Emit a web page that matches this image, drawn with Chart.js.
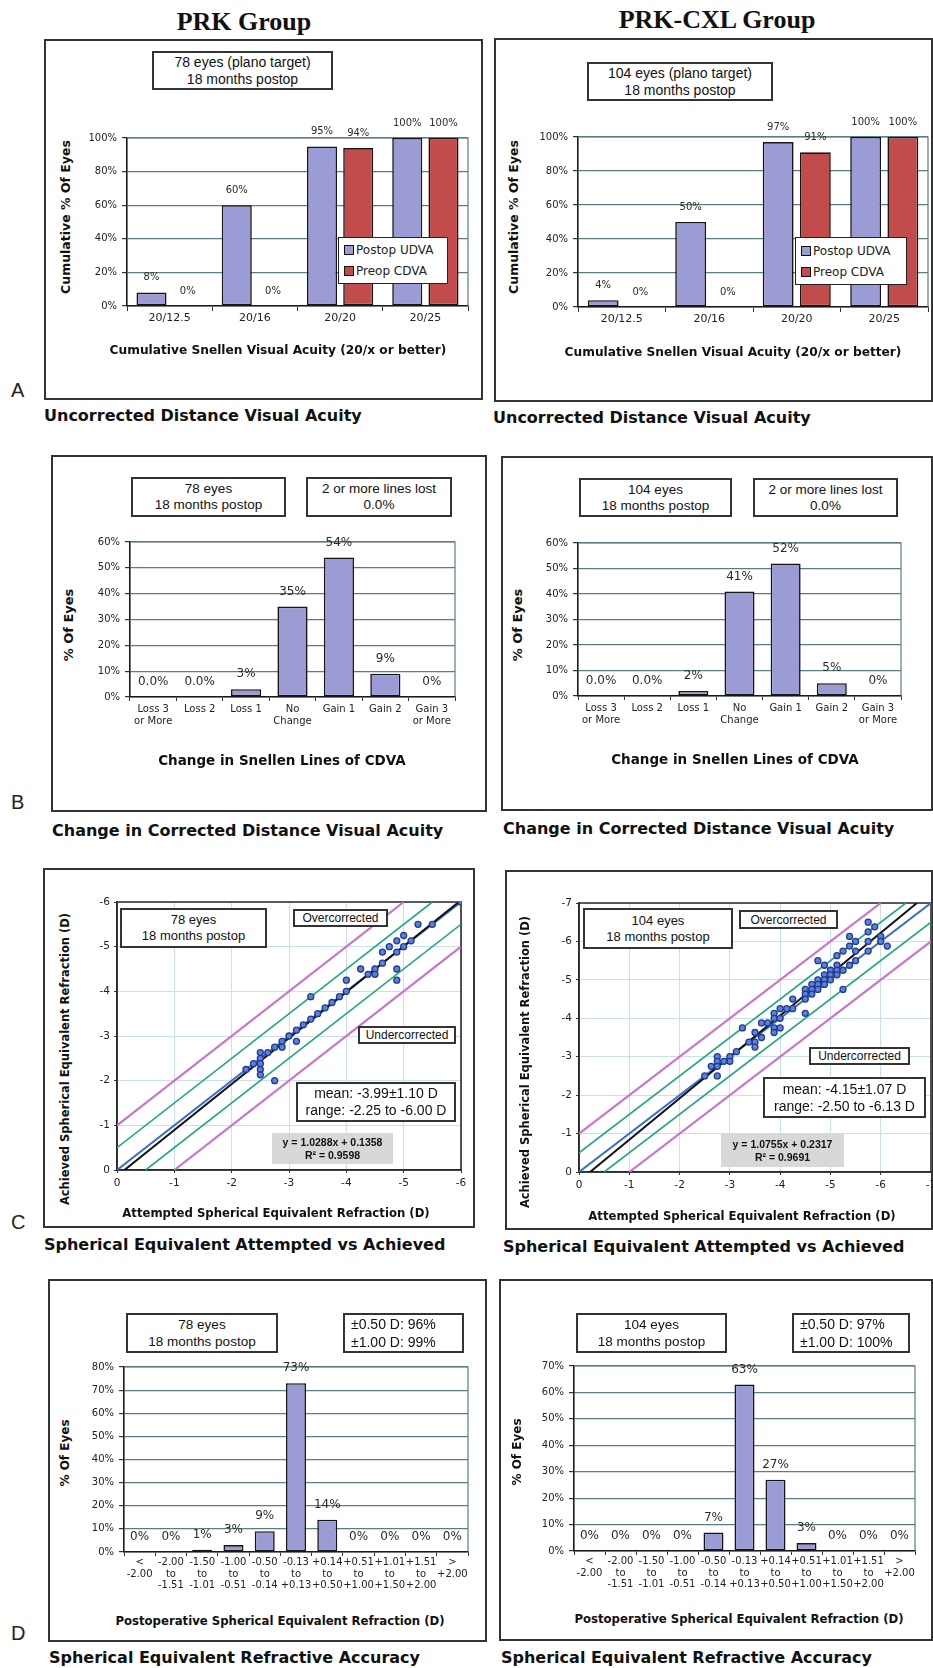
<!DOCTYPE html>
<html>
<head>
<meta charset="utf-8">
<script src="https://cdn.jsdelivr.net/npm/chart.js@4.4.0/dist/chart.umd.min.js"></script>
<style>
body { margin:0; width:933px; height:1668px; position:relative; background:#fff; overflow:hidden; font-family:"DejaVu Sans", sans-serif; color:#111; }
.panel { position:absolute; border:2px solid #333; box-sizing:border-box; }
.box { position:absolute; border:2px solid #333; box-sizing:border-box; background:#fff; font-family:"Liberation Sans", Arial, sans-serif; text-align:center; display:flex; flex-direction:column; justify-content:center; color:#111; }
.legend { position:absolute; border:1.5px solid #222; box-sizing:border-box; background:#fff; font-size:12px; color:#222; display:flex; flex-direction:column; justify-content:center; gap:7px; padding-left:5px; }
.legend span.sw { display:inline-block; width:8px; height:8px; border:1.5px solid #111; margin-right:2px; vertical-align:-1px; }
</style>
</head>
<body>
<script>
// ---- data ----
const acuityCats = ['20/12.5', '20/16', '20/20', '20/25'];
const prkUdva = [8, 60, 95, 100];
const prkCdva = [0, 0, 94, 100];
const cxlUdva = [4, 50, 97, 100];
const cxlCdva = [0, 0, 91, 100];

const lineCats = [['Loss 3', 'or More'], 'Loss 2', 'Loss 1', ['No', 'Change'], 'Gain 1', 'Gain 2', ['Gain 3', 'or More']];
const prkLines = [0, 0, 3, 35, 54, 9, 0];
const prkLinesText = ['0.0%', '0.0%', '3%', '35%', '54%', '9%', '0%'];
const cxlLines = [0, 0, 2, 41, 52, 5, 0];
const cxlLinesText = ['0.0%', '0.0%', '2%', '41%', '52%', '5%', '0%'];

const seCats = [['<', '-2.00'], ['-2.00', 'to', '-1.51'], ['-1.50', 'to', '-1.01'], ['-1.00', 'to', '-0.51'], ['-0.50', 'to', '-0.14'],
  ['-0.13', 'to', '+0.13'], ['+0.14', 'to', '+0.50'], ['+0.51', 'to', '+1.00'], ['+1.01', 'to', '+1.50'], ['+1.51', 'to', '+2.00'], ['>', '+2.00']];
const prkSe = [0, 0, 1, 3, 9, 73, 14, 0, 0, 0, 0];
const cxlSe = [0, 0, 0, 0, 7, 63, 27, 3, 0, 0, 0];

// attempted vs achieved (D)
const prkAttempted = [-6, -5.5, -5.25, -5.13, -5, -5, -4.88, -4.88, -4.88, -4.88, -4.75, -4.63, -4.63, -4.5, -4.5, -4.38, -4.25, -4, -4, -3.88,
  -3.75, -3.63, -3.5, -3.38, -3.38, -3.25, -3.13, -3.13, -3, -2.88, -2.88, -2.75, -2.75, -2.63, -2.5, -2.5, -2.5, -2.5, -2.5, -2.38, -2.25];
const prkAchieved = [-6, -5.5, -5.5, -5.13, -5.25, -5, -5.13, -4.88, -4.5, -4.25, -5, -4.88, -4.63, -4.5, -4.38, -4.38, -4.5, -4.25, -4, -3.88,
  -3.75, -3.63, -3.5, -3.88, -3.38, -3.25, -3.13, -2.88, -3, -2.88, -2.75, -2.75, -2, -2.63, -2.63, -2.5, -2.38, -2.25, -2.13, -2.38, -2.25];
const cxlAttempted = [-5.75, -5.88, -5.75, -5.38, -5.75, -5.5, -6, -6, -6.13, -5.38, -5.25, -5.5, -5.75, -5.13, -5.5, -5.38, -4.75, -4.88, -5.13, -5,
  -5.13, -5.25, -4.88, -5, -5.13, -4.75, -4.88, -5, -4.63, -4.75, -4.88, -4.5, -4.63, -4.75, -5.25, -4.5, -4.63, -4.5, -4.25, -4.13,
  -4.25, -4.5, -4, -3.88, -3.88, -4, -3.75, -3.88, -4, -3.88, -3.63, -3.63, -3.5, -3.5, -3.5, -3.38, -3.25, -3.13, -3, -3,
  -2.88, -2.75, -2.75, -2.75, -2.75, -2.63, -2.5];
const cxlAchieved = [-6.5, -6.38, -6.25, -6.13, -6, -6, -6.13, -6, -5.88, -5.88, -5.75, -5.75, -5.75, -5.63, -5.5, -5.38, -5.5, -5.38, -5.38, -5.25,
  -5.25, -5.25, -5.13, -5.13, -5.13, -5, -5, -5, -4.88, -4.88, -4.88, -4.75, -4.75, -4.75, -4.75, -4.63, -4.63, -4.5, -4.5, -4.25,
  -4.25, -4.13, -4.25, -4.13, -4, -4, -3.88, -3.75, -3.75, -3.63, -3.88, -3.5, -3.63, -3.38, -3.25, -3.38, -3.75, -3.13, -3, -2.88,
  -2.88, -3, -2.88, -2.75, -2.5, -2.75, -2.5];

// reference lines as [x, y] end points
const prkFit = [[-0.13, 0], [-6, -6.04]];
const prkIdent = [[0, 0], [-6, -6]];
const prkGreen = [[[0, -0.5], [-5.5, -6]], [[-0.5, 0], [-6, -5.5]]];
const prkMagenta = [[[0, -1], [-5, -6]], [[-1, 0], [-6, -5]]];
const cxlFit = [[-0.22, 0], [-6.72, -7]];
const cxlIdent = [[0, 0], [-7, -7]];
const cxlGreen = [[[0, -0.5], [-6.5, -7]], [[-0.5, 0], [-7, -6.5]]];
const cxlMagenta = [[[0, -1], [-6, -7]], [[-1, 0], [-7, -6]]];

// ---- styles ----
const PURPLE = '#9b9bd5';
const RED = '#c24b4b';
const GRID = '#5a7d84';
const LIGHT = '#cadff0';
const GREEN = '#1fa87a';
const MAGENTA = '#cc72cc';
const BLUE = '#3a6bd0';
const INK = '#222';

Chart.defaults.font.family = '"DejaVu Sans", sans-serif';
Chart.defaults.color = INK;

// ---- html helpers ----
function T(s, x, y, css, how) {
  const d = document.createElement('div');
  d.textContent = s;
  let tf = 'translate(-50%,-50%)';
  if (how === 'l') tf = 'translate(0,-50%)';
  if (how === 'v') tf = 'translate(-50%,-50%) rotate(-90deg)';
  d.style.cssText = 'position:absolute;white-space:nowrap;left:' + x + 'px;top:' + y + 'px;transform:' + tf + ';' + (css || '');
  document.body.appendChild(d);
}
function panel(x1, y1, x2, y2) {
  const d = document.createElement('div');
  d.className = 'panel';
  d.style.cssText = 'left:' + x1 + 'px;top:' + y1 + 'px;width:' + (x2 - x1) + 'px;height:' + (y2 - y1) + 'px';
  document.body.appendChild(d);
}
function box(x1, y1, x2, y2, lines, css) {
  const d = document.createElement('div');
  d.className = 'box';
  d.style.cssText = 'left:' + x1 + 'px;top:' + y1 + 'px;width:' + (x2 - x1) + 'px;height:' + (y2 - y1) + 'px;' + (css || '');
  lines.forEach(l => { const s = document.createElement('div'); s.textContent = l; d.appendChild(s); });
  document.body.appendChild(d);
}
function legend(x1, y1, x2, y2) {
  const d = document.createElement('div');
  d.className = 'legend';
  d.style.cssText = 'left:' + x1 + 'px;top:' + y1 + 'px;width:' + (x2 - x1) + 'px;height:' + (y2 - y1) + 'px';
  d.innerHTML = '<div><span class="sw" style="background:' + PURPLE + '"></span>Postop UDVA</div>' +
                '<div><span class="sw" style="background:' + RED + '"></span>Preop CDVA</div>';
  document.body.appendChild(d);
}

// ---- chart helpers ----
function mount(plot, yW, xH, pad) {
  const w = plot.r - plot.l + yW + pad.left + pad.right;
  const h = plot.b - plot.t + xH + pad.top + pad.bottom;
  const c = document.createElement('canvas');
  c.width = w; c.height = h;
  c.style.cssText = 'position:absolute;left:' + (plot.l - yW - pad.left) + 'px;top:' + (plot.t - pad.top) + 'px;width:' + w + 'px;height:' + h + 'px';
  document.body.appendChild(c);
  return c;
}
const noPad = s => { s.paddingLeft = 0; s.paddingRight = 0; s.paddingTop = 0; s.paddingBottom = 0; };
const fixW = w => s => { s.width = w; noPad(s); };
const fixH = h => s => { s.height = h; noPad(s); };

const frame = {
  id: 'frame',
  beforeDatasetsDraw(chart, args, opts) {
    const { left, top, right, bottom } = chart.chartArea;
    const ctx = chart.ctx;
    ctx.save();
    ctx.strokeStyle = opts.color;
    ctx.lineWidth = opts.width;
    ctx.beginPath();
    if (opts.all) { ctx.moveTo(left, bottom); ctx.lineTo(left, top); } else { ctx.moveTo(left, top); }
    ctx.lineTo(right, top);
    ctx.lineTo(right, bottom);
    if (opts.all) ctx.lineTo(left, bottom);
    ctx.stroke();
    ctx.restore();
  }
};
const valueText = {
  id: 'valueText',
  afterDatasetsDraw(chart, args, opts) {
    const ctx = chart.ctx;
    ctx.save();
    ctx.font = opts.size + 'px "DejaVu Sans"';
    ctx.fillStyle = '#2a2a2a';
    ctx.textAlign = 'center';
    ctx.textBaseline = 'middle';
    chart.data.datasets.forEach((ds, i) => {
      if (!ds.valueLabels) return;
      chart.getDatasetMeta(i).data.forEach((bar, j) => ctx.fillText(ds.valueLabels[j], bar.x, bar.y - opts.gap));
    });
    ctx.restore();
  }
};

function barChart(o) {
  const yW = 45, xH = 60;
  const c = mount(o.plot, yW, xH, o.pad);
  new Chart(c, {
    type: 'bar',
    data: {
      labels: o.labels,
      datasets: o.series.map(s => ({
        data: s.data, valueLabels: s.text, backgroundColor: s.color,
        borderColor: '#151515', borderWidth: 1.6, borderSkipped: false,
        categoryPercentage: o.cp, barPercentage: o.bp
      }))
    },
    options: {
      responsive: false, animation: false, events: [],
      layout: { padding: o.pad, autoPadding: false },
      plugins: {
        legend: { display: false }, tooltip: { enabled: false },
        frame: { color: GRID, width: 1.2 },
        valueText: { size: o.labelSize, gap: 15 }
      },
      scales: {
        x: {
          grid: { drawOnChartArea: false, tickLength: o.xTick, tickColor: '#333', offset: true },
          border: { color: '#1a1a1a', width: 1.6 },
          ticks: { font: { size: o.xFont, lineHeight: o.xLine }, padding: o.xPad, color: INK, maxRotation: 0, autoSkip: false },
          afterFit: fixH(xH)
        },
        y: {
          min: 0, max: o.yMax,
          grid: { color: GRID, lineWidth: 1.2, tickLength: 5, tickColor: '#333' },
          border: { color: '#1a1a1a', width: 1.6 },
          ticks: { stepSize: o.yStep, font: { size: 10 }, padding: 5, color: INK, callback: v => v + '%' },
          afterFit: fixW(yW)
        }
      }
    },
    plugins: [frame, valueText]
  });
}

function scatterChart(o) {
  const yW = 45, xH = 40;
  const c = mount(o.plot, yW, xH, o.pad);
  const line = (pts, color, w) => ({
    type: 'line', data: pts.map(p => ({ x: p[0], y: p[1] })),
    borderColor: color, borderWidth: w, pointRadius: 0, fill: false, tension: 0
  });
  const axis = (fix) => ({
    type: 'linear', min: -o.max, max: 0, reverse: true,
    grid: { color: LIGHT, lineWidth: 1, tickLength: 3, tickColor: '#333' },
    border: { color: '#2a2a2a', width: 1.6 },
    ticks: { stepSize: 1, font: { size: 10.5 }, padding: 4, color: INK, callback: v => String(v) },
    afterFit: fix
  });
  new Chart(c, {
    type: 'scatter',
    data: {
      datasets: [
        { data: o.xs.map((x, i) => ({ x: x, y: o.ys[i] })), pointRadius: 3, pointBackgroundColor: '#5f80d6', pointBorderColor: '#1f3c95', pointBorderWidth: 1.3 },
        line(o.fit, '#111', 2),
        line(o.ident, BLUE, 2),
        line(o.green[0], GREEN, 1.6), line(o.green[1], GREEN, 1.6),
        line(o.magenta[0], MAGENTA, 2.2), line(o.magenta[1], MAGENTA, 2.2)
      ]
    },
    options: {
      responsive: false, animation: false, events: [],
      layout: { padding: o.pad, autoPadding: false },
      plugins: { legend: { display: false }, tooltip: { enabled: false }, frame: { color: '#2a2a2a', width: 1.6, all: true } },
      scales: { x: axis(fixH(xH)), y: axis(fixW(yW)) }
    },
    plugins: [frame]
  });
}

// ---- page furniture ----
const serif = 'font-family:"Liberation Serif",serif;font-weight:bold;font-size:26px;color:#111;';
const section = 'font-weight:bold;font-size:16px;color:#111;';
const letter = 'font-family:"Liberation Sans",Arial,sans-serif;font-size:20px;color:#222;';
const ax = size => 'font-weight:bold;font-size:' + size + 'px;color:#111;';

T('PRK Group', 244, 22, serif);
T('PRK-CXL Group', 717, 20, serif);

panel(44, 39, 483, 400); panel(494, 38, 933, 402);
panel(51, 455, 487, 812); panel(501, 456, 933, 811);
panel(43, 868, 475, 1228); panel(505, 870, 933, 1230);
panel(48, 1279, 487, 1642); panel(499, 1279, 933, 1641);

T('A', 11, 390, letter, 'l'); T('B', 11, 802, letter, 'l'); T('C', 11, 1222, letter, 'l'); T('D', 11, 1633, letter, 'l');

T('Uncorrected Distance Visual Acuity', 44, 415, section, 'l');
T('Uncorrected Distance Visual Acuity', 493, 417, section, 'l');
T('Change in Corrected Distance Visual Acuity', 52, 830, section, 'l');
T('Change in Corrected Distance Visual Acuity', 503, 828, section, 'l');
T('Spherical Equivalent Attempted vs Achieved', 44, 1244, section, 'l');
T('Spherical Equivalent Attempted vs Achieved', 503, 1246, section, 'l');
T('Spherical Equivalent Refractive Accuracy', 49, 1657, section, 'l');
T('Spherical Equivalent Refractive Accuracy', 501, 1657, section, 'l');

// ---- A ----
barChart({
  plot: { l: 127, r: 468, t: 138, b: 306 }, pad: { left: 0, right: 8, top: 26, bottom: 0 },
  labels: acuityCats, cp: 0.85, bp: 0.83, yMax: 100, yStep: 20, labelSize: 10,
  xFont: 11, xLine: 1.2, xTick: 5, xPad: 1,
  series: [
    { data: prkUdva, text: prkUdva.map(v => v + '%'), color: PURPLE },
    { data: prkCdva, text: prkCdva.map(v => v + '%'), color: RED }
  ]
});
barChart({
  plot: { l: 578, r: 928, t: 137, b: 307 }, pad: { left: 0, right: 4, top: 26, bottom: 0 },
  labels: acuityCats, cp: 0.85, bp: 0.83, yMax: 100, yStep: 20, labelSize: 10,
  xFont: 11, xLine: 1.2, xTick: 5, xPad: 1,
  series: [
    { data: cxlUdva, text: cxlUdva.map(v => v + '%'), color: PURPLE },
    { data: cxlCdva, text: cxlCdva.map(v => v + '%'), color: RED }
  ]
});
box(152, 51, 333, 90, ['78 eyes (plano target)', '18 months postop'], 'font-size:14px;line-height:17px;');
box(587, 62, 773, 101, ['104 eyes (plano target)', '18 months postop'], 'font-size:14px;line-height:17px;');
legend(338, 237, 448, 284);
legend(795, 237, 907, 285);
T('Cumulative % Of Eyes', 65, 217, ax(12.5), 'v');
T('Cumulative % Of Eyes', 513, 217, ax(12.5), 'v');
T('Cumulative Snellen Visual Acuity (20/x or better)', 278, 350, ax(12.2));
T('Cumulative Snellen Visual Acuity (20/x or better)', 733, 352, ax(12.2));

// ---- B ----
barChart({
  plot: { l: 130, r: 455, t: 542, b: 697 }, pad: { left: 0, right: 8, top: 20, bottom: 0 },
  labels: lineCats, cp: 1, bp: 0.65, yMax: 60, yStep: 10, labelSize: 12,
  xFont: 10, xLine: 1.2, xTick: 4, xPad: 2,
  series: [{ data: prkLines, text: prkLinesText, color: PURPLE }]
});
barChart({
  plot: { l: 578, r: 901, t: 543, b: 696 }, pad: { left: 0, right: 8, top: 20, bottom: 0 },
  labels: lineCats, cp: 1, bp: 0.65, yMax: 60, yStep: 10, labelSize: 12,
  xFont: 10, xLine: 1.2, xTick: 4, xPad: 2,
  series: [{ data: cxlLines, text: cxlLinesText, color: PURPLE }]
});
box(131, 477, 286, 517, ['78 eyes', '18 months postop'], 'font-size:13.5px;line-height:16px;');
box(306, 477, 452, 517, ['2 or more lines lost', '0.0%'], 'font-size:13.5px;line-height:16px;');
box(579, 478, 732, 517, ['104 eyes', '18 months postop'], 'font-size:13.5px;line-height:16px;');
box(753, 478, 898, 517, ['2 or more lines lost', '0.0%'], 'font-size:13.5px;line-height:16px;');
T('% Of Eyes', 68, 625, ax(13), 'v');
T('% Of Eyes', 517, 625, ax(13), 'v');
T('Change in Snellen Lines of CDVA', 282, 760, ax(13.5));
T('Change in Snellen Lines of CDVA', 735, 759, ax(13.5));

// ---- C ----
scatterChart({
  plot: { l: 117, r: 461, t: 902, b: 1170 }, pad: { left: 0, right: 8, top: 10, bottom: 0 }, max: 6,
  xs: prkAttempted, ys: prkAchieved, fit: prkFit, ident: prkIdent, green: prkGreen, magenta: prkMagenta
});
scatterChart({
  plot: { l: 579, r: 931, t: 903, b: 1172 }, pad: { left: 0, right: 2, top: 10, bottom: 0 }, max: 7,
  xs: cxlAttempted, ys: cxlAchieved, fit: cxlFit, ident: cxlIdent, green: cxlGreen, magenta: cxlMagenta
});
box(120, 908, 267, 948, ['78 eyes', '18 months postop'], 'font-size:13px;line-height:16px;');
box(293, 909, 388, 927, ['Overcorrected'], 'font-size:12px;line-height:14px;');
box(358, 1026, 456, 1044, ['Undercorrected'], 'font-size:12px;line-height:14px;');
box(296, 1082, 456, 1122, ['mean: -3.99\u00b11.10 D', 'range: -2.25 to -6.00 D'], 'font-size:14px;line-height:17px;');
box(272, 1133, 393, 1164, ['y = 1.0288x + 0.1358', 'R\u00b2 = 0.9598'], 'border:none;background:#d8d8d8;font-weight:bold;font-size:10.5px;line-height:13px;');
box(583, 908, 733, 949, ['104 eyes', '18 months postop'], 'font-size:13px;line-height:16px;');
box(739, 910, 838, 929, ['Overcorrected'], 'font-size:12px;line-height:14px;');
box(809, 1047, 910, 1065, ['Undercorrected'], 'font-size:12px;line-height:14px;');
box(763, 1077, 926, 1118, ['mean: -4.15\u00b11.07 D', 'range: -2.50 to -6.13 D'], 'font-size:14px;line-height:17px;');
box(721, 1134, 844, 1167, ['y = 1.0755x + 0.2317', 'R\u00b2 = 0.9691'], 'border:none;background:#d8d8d8;font-weight:bold;font-size:10.5px;line-height:13px;');
T('Achieved Spherical Equivalent Refraction (D)', 65, 1059, ax(11.5), 'v');
T('Achieved Spherical Equivalent Refraction (D)', 525, 1062, ax(11.5), 'v');
T('Attempted Spherical Equivalent Refraction (D)', 276, 1213, ax(11.7));
T('Attempted Spherical Equivalent Refraction (D)', 742, 1216, ax(11.7));

// ---- D ----
barChart({
  plot: { l: 124, r: 468, t: 1367, b: 1552 }, pad: { left: 0, right: 8, top: 20, bottom: 0 },
  labels: seCats, cp: 1, bp: 0.64, yMax: 80, yStep: 10, labelSize: 12,
  xFont: 10, xLine: 1.15, xTick: 4, xPad: 1,
  series: [{ data: prkSe, text: prkSe.map(v => v + '%'), color: PURPLE }]
});
barChart({
  plot: { l: 574, r: 915, t: 1366, b: 1551 }, pad: { left: 0, right: 8, top: 20, bottom: 0 },
  labels: seCats, cp: 1, bp: 0.645, yMax: 70, yStep: 10, labelSize: 12,
  xFont: 10, xLine: 1.15, xTick: 4, xPad: 1,
  series: [{ data: cxlSe, text: cxlSe.map(v => v + '%'), color: PURPLE }]
});
box(126, 1313, 278, 1353, ['78 eyes', '18 months postop'], 'font-size:13.5px;line-height:17px;');
box(343, 1313, 464, 1353, ['\u00b10.50 D: 96%', '\u00b11.00 D: 99%'], 'font-size:14px;line-height:18px;text-align:left;padding-left:6px;');
box(576, 1313, 727, 1353, ['104 eyes', '18 months postop'], 'font-size:13.5px;line-height:17px;');
box(792, 1313, 910, 1353, ['\u00b10.50 D: 97%', '\u00b11.00 D: 100%'], 'font-size:14px;line-height:18px;text-align:left;padding-left:6px;');
T('% Of Eyes', 65, 1453, ax(12), 'v');
T('% Of Eyes', 517, 1452, ax(12), 'v');
T('Postoperative Spherical Equivalent Refraction (D)', 280, 1621, ax(11.7));
T('Postoperative Spherical Equivalent Refraction (D)', 739, 1619, ax(11.7));
</script>
</body>
</html>
